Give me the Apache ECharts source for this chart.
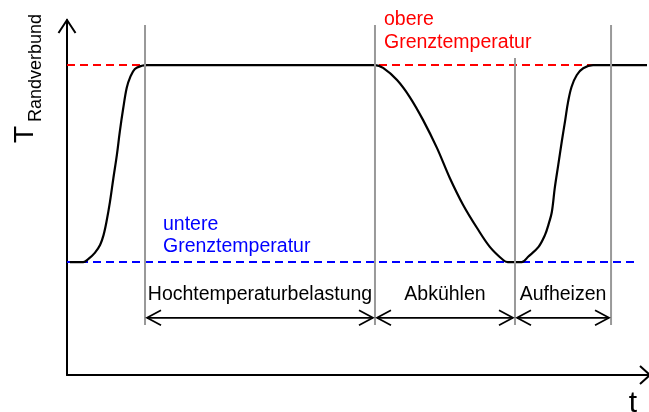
<!DOCTYPE html>
<html>
<head>
<meta charset="utf-8">
<title>Temperaturverlauf Randverbund</title>
<script src="https://cdn.jsdelivr.net/npm/echarts@6/dist/echarts.min.js"></script>
<style>
  html, body { margin: 0; padding: 0; background: #fff; }
  #chart { width: 649px; height: 412px; }
</style>
</head>
<body>
<div id="chart"></div>
<script>
// Temperature course of the edge bond over time (schematic units 0..100)
const curveX = [0.5, 2.8, 3.7, 4.8, 5.7, 6.3, 6.8, 7.4, 8.0, 8.6, 9.1, 9.7, 10.3,
  10.9, 11.7, 12.9, 13.8,
  53.1, 54.5, 56.9, 59.1, 61.4, 63.8, 66.0, 68.3, 70.7, 72.9, 75.2, 76.0,
  78.4, 79.5, 81.3, 82.4, 83.0, 83.6, 84.1, 84.7, 85.3, 85.9, 86.4, 87.0,
  87.9, 89.0, 90.7, 100];
const curveY = [31.8, 31.8, 32.7, 34.4, 36.6, 39.4, 43.1, 48.7, 55.5, 62.0, 68.5, 75.2, 80.9,
  83.9, 86.2, 87.1, 87.3,
  87.3, 86.5, 83.1, 78.3, 71.8, 63.9, 55.5, 47.9, 41.4, 36.1, 32.4, 31.8,
  31.8, 33.3, 36.1, 39.4, 42.3, 46.0, 52.7, 59.2, 65.7, 71.8, 77.0, 81.2,
  84.5, 86.4, 87.3, 87.3];

// Temperature limits and the extent of their dashed reference lines
const upperLimit = 87.3;
const lowerLimit = 31.8;
const upperLimitEnd = 90.7;
const lowerLimitEnd = 98.1;

// Phase boundaries (vertical lines) and the phases between them
const phaseBounds = [13.45, 53.1, 77.24, 93.8];
const phaseLineTops = [98.6, 98.6, 89.3, 98.6];
const phaseLineBottom = 14.1;
const phaseArrowLevel = 16.1;
const phaseLabels = ['Hochtemperaturbelastung', 'Abkühlen', 'Aufheizen'];

const FONT = '"Liberation Sans", Arial, Helvetica, sans-serif';

const chart = echarts.init(document.getElementById('chart'), null, { renderer: 'canvas' });

function chevron(tip, dirX, dirY, len, half, width) {
  // open arrow head pointing in direction (dirX, dirY)
  const bx = tip[0] - dirX * len, by = tip[1] - dirY * len;
  const nx = -dirY * half, ny = dirX * half;
  return {
    type: 'polyline',
    shape: { points: [[bx + nx, by + ny], tip, [bx - nx, by - ny]] },
    style: { stroke: '#000', lineWidth: width, fill: null, lineJoin: 'miter' }
  };
}

const option = {
  animation: false,
  backgroundColor: '#fff',
  grid: { left: 67, right: 2, top: 20, bottom: 37 },
  xAxis: {
    type: 'value', min: 0, max: 100,
    axisLine: { show: true, lineStyle: { color: '#000', width: 2 } },
    axisTick: { show: false }, axisLabel: { show: false }, splitLine: { show: false }
  },
  yAxis: {
    type: 'value', min: 0, max: 100,
    axisLine: { show: true, lineStyle: { color: '#000', width: 2 } },
    axisTick: { show: false }, axisLabel: { show: false }, splitLine: { show: false }
  },
  series: [
    {
      name: 'obere Grenztemperatur', type: 'line', symbol: 'none', silent: true, z: 2,
      data: [[0, upperLimit], [upperLimitEnd, upperLimit]],
      lineStyle: { color: '#ff0000', width: 2, type: [8, 5] }
    },
    {
      name: 'untere Grenztemperatur', type: 'line', symbol: 'none', silent: true, z: 2,
      data: [[0, lowerLimit], [lowerLimitEnd, lowerLimit]],
      lineStyle: { color: '#0000ff', width: 2, type: [8, 5] }
    },
    {
      name: 'T Randverbund', type: 'line', symbol: 'none', silent: true, z: 3,
      smooth: 0.35,
      data: curveX.map((x, i) => [x, curveY[i]]),
      lineStyle: { color: '#000', width: 2.2 }
    },
    {
      name: 'Phasengrenzen', type: 'custom', silent: true, z: 4, clip: false,
      data: phaseBounds.map((x, i) => [x, phaseLineTops[i]]),
      renderItem: (params, api) => {
        const x = api.value(0);
        const p0 = api.coord([x, phaseLineBottom]);
        const p1 = api.coord([x, api.value(1)]);
        return {
          type: 'line',
          shape: { x1: p0[0], y1: p0[1], x2: p1[0], y2: p1[1] },
          style: { stroke: '#999', lineWidth: 2 }
        };
      }
    },
    {
      name: 'Phasen', type: 'custom', silent: true, z: 5, clip: false,
      data: phaseLabels.map((_, i) => [phaseBounds[i], phaseBounds[i + 1], phaseArrowLevel]),
      renderItem: (params, api) => {
        const a = api.coord([api.value(0), api.value(2)]);
        const b = api.coord([api.value(1), api.value(2)]);
        const left = [a[0] + 2, a[1]], right = [b[0] - 2, b[1]];
        return {
          type: 'group',
          children: [
            { type: 'line', shape: { x1: left[0], y1: left[1], x2: right[0], y2: right[1] },
              style: { stroke: '#000', lineWidth: 1.7 } },
            chevron(left, -1, 0, 14, 7.5, 1.7),
            chevron(right, 1, 0, 14, 7.5, 1.7),
            { type: 'text', x: (a[0] + b[0]) / 2, y: a[1] - 23,
              style: { text: phaseLabels[params.dataIndex], font: '19.5px ' + FONT,
                fill: '#000', align: 'center', verticalAlign: 'middle' } }
          ]
        };
      }
    },
    {
      name: 'Achsenpfeile', type: 'custom', silent: true, z: 6, clip: false,
      data: [[0, 100], [100, 0]],
      renderItem: (params, api) => {
        const p = api.coord([api.value(0), api.value(1)]);
        if (params.dataIndex === 0) {
          return chevron([p[0], p[1]], 0, -1, 13, 8.5, 2);
        }
        const tip = [p[0] + 3, p[1]];
        return {
          type: 'group',
          children: [
            { type: 'line', shape: { x1: p[0] - 1, y1: p[1], x2: tip[0], y2: tip[1] },
              style: { stroke: '#000', lineWidth: 2 } },
            chevron(tip, 1, 0, 10, 9, 2)
          ]
        };
      }
    }
  ],
  graphic: [
    { type: 'text', x: 384, y: 31, silent: true,
      style: { text: 'obere\nGrenztemperatur', font: '19.5px ' + FONT, fill: '#ff0000',
        lineHeight: 23, align: 'left', verticalAlign: 'middle' } },
    { type: 'text', x: 163, y: 236, silent: true,
      style: { text: 'untere\nGrenztemperatur', font: '19.5px ' + FONT, fill: '#0000ff',
        lineHeight: 22, align: 'left', verticalAlign: 'middle' } },
    { type: 'text', x: 25, y: 143, rotation: Math.PI / 2, silent: true,
      style: { text: 'T', font: '28px ' + FONT, fill: '#000', align: 'left', verticalAlign: 'middle' } },
    { type: 'text', x: 36, y: 122, rotation: Math.PI / 2, silent: true,
      style: { text: 'Randverbund', font: '18px ' + FONT, fill: '#000', align: 'left', verticalAlign: 'middle' } },
    { type: 'text', x: 633, y: 404, silent: true,
      style: { text: 't', font: '30px ' + FONT, fill: '#000', align: 'center', verticalAlign: 'middle' } }
  ]
};

chart.setOption(option);
</script>
</body>
</html>
